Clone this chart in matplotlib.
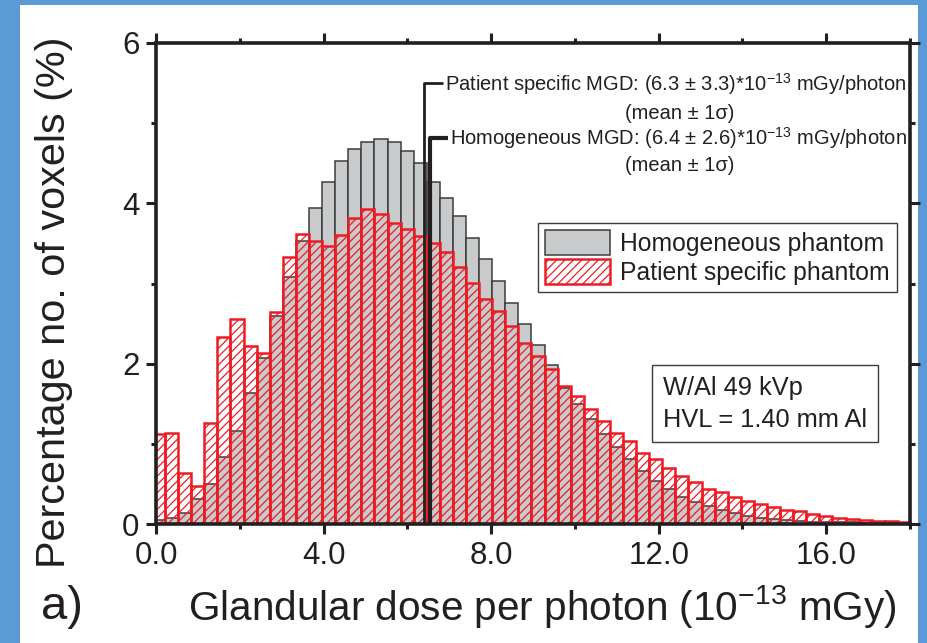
import numpy as np
import matplotlib
matplotlib.use("Agg")
import matplotlib.pyplot as plt
from matplotlib.patches import Rectangle

# ---------------- data ----------------
bin_start = -0.1025       # left edge of first (partly clipped) bin, 1e-13 mGy
bin_width = 0.3125
homogeneous = [0.05, 0.08, 0.14, 0.31, 0.50, 0.83, 1.16, 1.63, 2.07, 2.60,
               3.08, 3.53, 3.94, 4.26, 4.53, 4.68, 4.77, 4.80, 4.77, 4.65,
               4.50, 4.27, 4.07, 3.84, 3.57, 3.30, 3.03, 2.76, 2.49, 2.23,
               1.98, 1.70, 1.50, 1.31, 1.12, 0.96, 0.81, 0.66, 0.54, 0.44,
               0.34, 0.28, 0.22, 0.17, 0.14, 0.10, 0.07, 0.06, 0.05, 0.04,
               0.03, 0.03, 0.02, 0.02, 0.01, 0.01, 0.01, 0.01]
patient = [1.12, 1.14, 0.63, 0.47, 1.26, 2.33, 2.56, 2.22, 2.13, 2.64,
           3.33, 3.62, 3.53, 3.47, 3.60, 3.82, 3.93, 3.87, 3.76, 3.68,
           3.59, 3.51, 3.39, 3.21, 3.01, 2.81, 2.66, 2.47, 2.26, 2.10,
           1.93, 1.72, 1.60, 1.43, 1.28, 1.14, 1.03, 0.89, 0.81, 0.70,
           0.60, 0.52, 0.44, 0.40, 0.34, 0.29, 0.25, 0.21, 0.18, 0.16,
           0.12, 0.10, 0.08, 0.06, 0.05, 0.04, 0.035, 0.03]
mgd_patient_line = 6.40
mgd_homog_line = 6.53
xticks_major = [0.0, 4.0, 8.0, 12.0, 16.0]
xtick_labels = ["0.0", "4.0", "8.0", "12.0", "16.0"]
yticks_major = [0, 2, 4, 6]

# ---------------- style ----------------
FONT = ['Liberation Sans', 'DejaVu Sans']
plt.rcParams['font.family'] = FONT
plt.rcParams['mathtext.fontset'] = 'custom'
plt.rcParams['mathtext.rm'] = 'Liberation Sans'
plt.rcParams['hatch.linewidth'] = 0.9
plt.rcParams['hatch.color'] = '#ee3b42'
TXT = '#231f20'

W, H = 928, 643
fig = plt.figure(figsize=(W / 100, H / 100), dpi=100)
fig.patch.set_facecolor('#5b9bd5')
fig.patches.append(Rectangle((20 / W, 0), (918 - 20) / W, (H - 5) / H,
                             transform=fig.transFigure, facecolor='white',
                             edgecolor='none', zorder=-5))

ax = fig.add_axes([156.25 / W, (H - 524) / H, (910 - 156.25) / W, (524 - 43) / H])

n = len(patient)
left = bin_start + bin_width * np.arange(n)

hb = ax.bar(left, homogeneous, width=bin_width, align='edge', color='#c9cacc',
            edgecolor='#3c3c3c', linewidth=1.1, zorder=2,
            label='Homogeneous phantom')
pb = ax.bar(left, patient, width=bin_width, align='edge', facecolor='none',
            edgecolor='#ed1c24', linewidth=1.8, hatch='////', zorder=3,
            label='Patient specific phantom')

# MGD leader lines
ax.plot([mgd_patient_line, mgd_patient_line, 6.84], [0, 5.50, 5.50],
        color=TXT, lw=2.0, solid_capstyle='butt', zorder=5, clip_on=False)
ax.plot([mgd_homog_line, mgd_homog_line, 6.96], [0, 4.82, 4.82],
        color=TXT, lw=3.0, solid_capstyle='butt', zorder=5, clip_on=False)

ax.text(6.90, 5.49, r'Patient specific MGD: (6.3 ± 3.3)*10$^{\mathregular{-13}}$ mGy/photon',
        ha='left', va='center', fontsize=14.5, color=TXT, zorder=6)
ax.text(12.5, 5.12, '(mean ± 1σ)', ha='center', va='center', fontsize=14.5,
        color=TXT, zorder=6)
ax.text(7.02, 4.81, r'Homogeneous MGD: (6.4 ± 2.6)*10$^{\mathregular{-13}}$ mGy/photon',
        ha='left', va='center', fontsize=14.5, color=TXT, zorder=6)
ax.text(12.5, 4.47, '(mean ± 1σ)', ha='center', va='center', fontsize=14.5,
        color=TXT, zorder=6)

# info box
ax.text(0.672, 0.250, 'W/Al 49 kVp\nHVL = 1.40 mm Al', transform=ax.transAxes,
        ha='left', va='center', fontsize=18.3, color=TXT, linespacing=1.4,
        bbox=dict(boxstyle='square,pad=0.42', facecolor='white',
                  edgecolor='#3c3c3c', linewidth=1.0), zorder=7)

leg = ax.legend(handles=[hb, pb], loc='upper left',
                bbox_to_anchor=((538 - 156.25) / 753.75, (524 - 223) / 481),
                fontsize=17.8, frameon=True, fancybox=False, framealpha=1,
                edgecolor='#3c3c3c', handlelength=2.6, handleheight=1.15,
                handletextpad=0.4, borderpad=0.3, labelspacing=0.12,
                borderaxespad=0)
leg.get_frame().set_linewidth(1.0)
for t in leg.get_texts():
    t.set_color(TXT)
leg.set_zorder(8)

ax.set_xlim(0, 18)
ax.set_ylim(0, 6)
ax.set_xticks(xticks_major)
ax.set_xticklabels(xtick_labels)
ax.set_xticks([2, 6, 10, 14, 18], minor=True)
ax.set_yticks(yticks_major)
ax.set_yticks([1, 3, 5], minor=True)

for s in ax.spines.values():
    s.set_linewidth(2.6)
    s.set_color(TXT)
    s.set_zorder(10)
ax.tick_params(which='both', direction='out', top=True, right=True,
               color=TXT, width=2.2)
ax.tick_params(which='major', length=7, labelsize=22.5, pad=5, labelcolor=TXT)
ax.tick_params(which='minor', length=3.5)

ax.set_xlabel(r'Glandular dose per photon (10$^{\mathregular{-13}}$ mGy)',
              fontsize=29.2, color=TXT)
ax.xaxis.label.set_va('center')
ax.xaxis.set_label_coords((542 - 156.25) / 753.75, (524 - 606) / 481)
ax.set_ylabel('Percentage no. of voxels (%)', fontsize=29.8, color=TXT)
ax.yaxis.label.set_va('center')
ax.yaxis.set_label_coords((54 - 156.25) / 753.75, (524 - 302) / 481)

fig.text(62 / W, (H - 607) / H, 'a)', fontsize=34, color=TXT,
         ha='center', va='center')

fig.savefig('out.png', dpi=100, facecolor=fig.get_facecolor())
